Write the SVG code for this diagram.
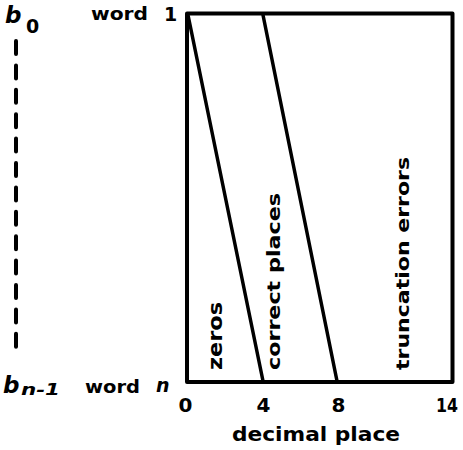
<svg xmlns="http://www.w3.org/2000/svg" width="463" height="450" viewBox="0 0 463 450">
<style>
.t{font-family:"DejaVu Sans","Liberation Sans",sans-serif;font-weight:bold;font-size:18px;fill:#000}
.i{font-style:italic}
.d{font-size:20px}
.ln{stroke:#000;fill:none;stroke-linecap:round;stroke-linejoin:round}
</style>
<rect width="463" height="450" fill="#fff"/>
<g id="frame">
<rect class="ln" x="187" y="13.5" width="265.5" height="368.5" stroke-width="4"/>
</g>
<g id="connectors">
<line class="ln" x1="188" y1="15" x2="263" y2="381" stroke-width="3.5"/>
<line class="ln" x1="263" y1="15" x2="337" y2="381" stroke-width="3.5"/>
<line class="ln" x1="16" y1="41" x2="16" y2="349" stroke-width="4" stroke-dasharray="13 11.4" stroke-linecap="butt"/>
</g>
<g id="left-labels">
<text class="t i" x="5" y="23" style="font-size:23px">b</text>
<text class="t" x="26" y="33" style="font-size:19px">0</text>
<text class="t" x="91" y="20" textLength="57" lengthAdjust="spacingAndGlyphs">word</text>
<text class="t" x="164" y="21" style="font-size:19px">1</text>
<text class="t i" x="3" y="393" style="font-size:23px">b</text>
<text class="t i" x="21" y="395" style="font-size:16px" textLength="39" lengthAdjust="spacingAndGlyphs">n-1</text>
<text class="t" x="85" y="393" textLength="55" lengthAdjust="spacingAndGlyphs">word</text>
<text class="t i" x="156" y="392" style="font-size:19px">n</text>
</g>
<g id="axis-labels">
<text class="t d" x="185.5" y="412" text-anchor="middle">0</text>
<text class="t d" x="263.5" y="412" text-anchor="middle">4</text>
<text class="t d" x="338.5" y="412" text-anchor="middle">8</text>
<text class="t d" x="436" y="412" textLength="22" lengthAdjust="spacingAndGlyphs">14</text>
<text class="t" x="232" y="441" style="font-size:19px" textLength="168" lengthAdjust="spacingAndGlyphs">decimal place</text>
</g>
<g id="region-zeros">
<text class="t" transform="translate(222,370) rotate(-90)" style="font-size:19px" textLength="68" lengthAdjust="spacingAndGlyphs">zeros</text>
</g>
<g id="region-correct">
<text class="t" transform="translate(280,370) rotate(-90)" textLength="177" lengthAdjust="spacingAndGlyphs">correct places</text>
</g>
<g id="region-truncation">
<text class="t" transform="translate(409,370) rotate(-90)" textLength="213" lengthAdjust="spacingAndGlyphs">truncation errors</text>
</g>
</svg>
